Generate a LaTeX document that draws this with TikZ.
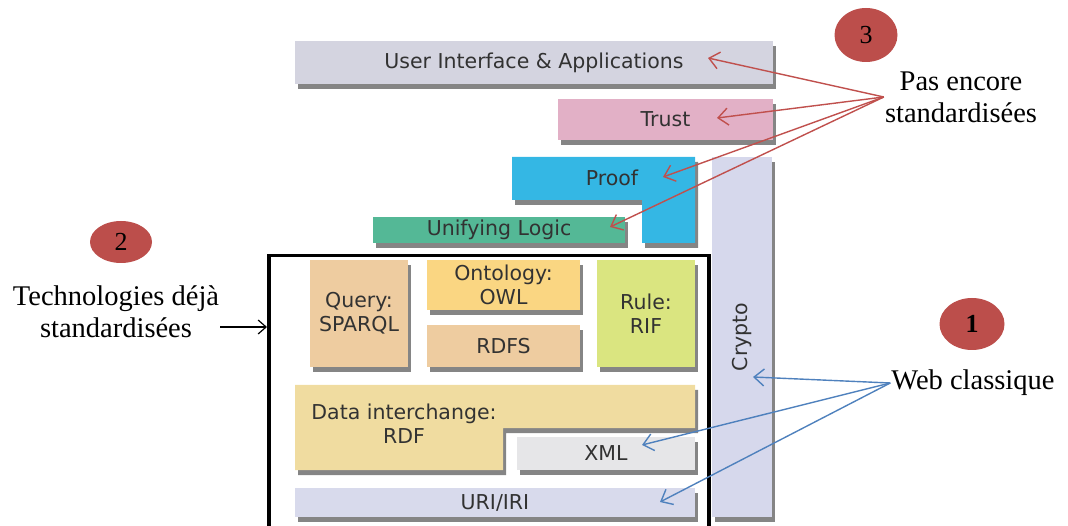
\documentclass[tikz,border=0pt]{standalone}
\usepackage{fontspec}
\setmainfont{Liberation Serif}
\setsansfont{DejaVu Sans}
\usetikzlibrary{arrows.meta,shadows,shapes.geometric}

\definecolor{uicol}{RGB}{212,212,224}
\definecolor{trustcol}{RGB}{226,176,198}
\definecolor{proofcol}{RGB}{52,183,228}
\definecolor{logiccol}{RGB}{84,184,150}
\definecolor{cryptocol}{RGB}{214,216,236}
\definecolor{querycol}{RGB}{238,204,160}
\definecolor{owlcol}{RGB}{250,214,130}
\definecolor{rulecol}{RGB}{218,229,128}
\definecolor{rdfcol}{RGB}{240,220,160}
\definecolor{xmlcol}{RGB}{230,230,232}
\definecolor{uricol}{RGB}{216,218,236}
\definecolor{txtgray}{RGB}{50,50,50}
\definecolor{badgered}{RGB}{188,78,75}
\definecolor{redline}{RGB}{192,80,77}
\definecolor{blueline}{RGB}{79,129,189}

\begin{document}
\begin{tikzpicture}[
  x=1pt, y=-1pt,
  layer/.style={fill=#1, drop shadow={shadow xshift=3pt, shadow yshift=-5pt, fill=black!80, opacity=0.6}},
  lbl/.style={font=\sffamily\fontsize{20.5}{24}\selectfont, text=txtgray, align=center, inner sep=0pt},
  box/.style={layer=#1, lbl},
  badge/.style={ellipse, fill=badgered, inner sep=0pt, font=\fontsize{26}{26}\selectfont},
  note/.style={font=\fontsize{28.5}{32}\selectfont, align=center, inner sep=1pt},
  redarr/.style={draw=redline, line width=1.4pt, -{Straight Barb[length=10pt, width=17pt]}},
  bluearr/.style={draw=blueline, line width=1.4pt, -{Straight Barb[length=10pt, width=17pt]}}
]
\useasboundingbox (0,0) rectangle (1068,526);

\node[box=uicol, minimum width=478, minimum height=43] (ui) at (534,62.5) {User Interface \& Applications};
\node[box=trustcol, minimum width=215, minimum height=41] (trust) at (665.5,119.5) {Trust};
\fill[layer=proofcol] (512,157) -- (695,157) -- (695,243) -- (642,243) -- (642,200) -- (512,200) -- cycle;
\node[lbl] (proof) at (612,178) {Proof};
\node[box=logiccol, minimum width=252, minimum height=26] (logic) at (499,230) {Unifying Logic};
\node[box=cryptocol, minimum width=60, minimum height=360] (crypto) at (742,337) {\rotatebox{90}{Crypto}};

\node[box=querycol, minimum width=98, minimum height=107] (query) at (359,313.5) {Query:\\SPARQL};
\node[box=owlcol, minimum width=153, minimum height=50] (owl) at (503.5,285) {Ontology:\\OWL};
\node[box=querycol, minimum width=153, minimum height=42] (rdfs) at (503.5,346) {RDFS};
\node[box=rulecol, minimum width=98, minimum height=107] (rule) at (646,313.5) {Rule:\\RIF};
\fill[layer=rdfcol] (295,385) -- (695,385) -- (695,428) -- (503,428) -- (503,470) -- (295,470) -- cycle;
\node[lbl] (rdf) at (404,424) {Data interchange:\\RDF};
\node[box=xmlcol, minimum width=178, minimum height=33] (xml) at (606,453.5) {XML};
\node[box=uricol, minimum width=400, minimum height=29] (uri) at (495,502.5) {URI/IRI};

\node[draw, line width=3.5pt, minimum width=440, minimum height=290, anchor=north west] (std) at (267,254) {};

\node[badge, minimum width=63, minimum height=54] (n3) at (866,35) {3};
\node[badge, minimum width=62, minimum height=42] (n2) at (121,242) {2};
\node[badge, minimum width=65, minimum height=52] (n1) at (972,324) {\bfseries 1};

\node[note] (pas) at (961,97) {Pas encore\\standardisées};
\node[note] (tech) at (116,312) {Technologies déjà\\standardisées};
\node[note] (web) at (973,383) {Web classique};

\coordinate (uiT) at (708,58);
\coordinate (trustT) at (717,118);
\coordinate (proofT) at (663,177);
\coordinate (logicT) at (610,227);
\coordinate (cryptoT) at (753,377);
\coordinate (xmlT) at (642,445);
\coordinate (uriT) at (660,502);

\draw[redarr] (pas.west) -- (uiT);
\draw[redarr] (pas.west) -- (trustT);
\draw[redarr] (pas.west) -- (proofT);
\draw[redarr] (pas.west) -- (logicT);

\draw[bluearr] (web.west) -- (cryptoT);
\draw[bluearr] (web.west) -- (xmlT);
\draw[bluearr] (web.west) -- (uriT);

\draw[line width=1.2pt, -{Straight Barb[length=8pt, width=14pt]}] ([yshift=-15pt]tech.east) -- ([yshift=-15pt]tech.east -| std.west);

\end{tikzpicture}
\end{document}
